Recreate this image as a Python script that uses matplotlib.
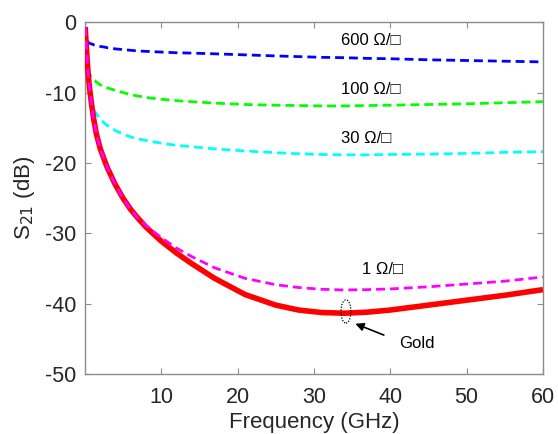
import matplotlib
matplotlib.use("Agg")
import matplotlib.pyplot as plt
from matplotlib.patches import Ellipse

plt.rcParams['font.family'] = ['Liberation Sans', 'DejaVu Sans']
plt.rcParams['axes.unicode_minus'] = False

freq = [0.05, 0.2, 0.4, 0.6, 0.9, 1.2, 1.5, 2, 2.6, 3, 4, 5, 6, 7, 8, 10, 12, 14, 17, 21, 25, 28, 31, 34, 37, 40, 45, 50, 55, 60]
gold = [-0.7, -3.5, -6.8, -9.2, -11.8, -14.0, -15.8, -17.9, -19.7, -20.8, -23.1, -25.0, -26.6, -27.9, -29.1, -31.1, -32.8, -34.3, -36.4, -38.7, -40.2, -40.9, -41.25, -41.35, -41.2, -40.9, -40.2, -39.5, -38.8, -38.0]
r1 = [-0.7, -3.5, -6.8, -9.2, -11.8, -14.0, -15.8, -17.9, -19.7, -20.8, -23.1, -25.0, -26.6, -27.9, -28.9, -30.6, -32.1, -33.3, -34.9, -36.4, -37.3, -37.7, -37.95, -38.05, -38.0, -37.9, -37.6, -37.2, -36.8, -36.2]
r30 = [-0.7, -3.5, -6.8, -9.2, -11.5, -12.5, -13.0, -13.7, -14.4, -14.7, -15.4, -15.9, -16.3, -16.6, -16.8, -17.2, -17.5, -17.7, -18.0, -18.3, -18.55, -18.7, -18.8, -18.85, -18.85, -18.8, -18.75, -18.65, -18.5, -18.4]
r100 = [-0.7, -3.5, -6.3, -7.3, -7.9, -8.2, -8.5, -8.9, -9.2, -9.35, -9.7, -10.0, -10.3, -10.5, -10.7, -10.95, -11.15, -11.3, -11.5, -11.7, -11.8, -11.85, -11.9, -11.9, -11.85, -11.8, -11.7, -11.6, -11.45, -11.3]
r600 = [-0.7, -2.3, -2.8, -3.0, -3.1, -3.25, -3.35, -3.45, -3.55, -3.65, -3.8, -3.9, -4.0, -4.1, -4.15, -4.25, -4.35, -4.4, -4.5, -4.65, -4.8, -4.9, -5.0, -5.05, -5.15, -5.2, -5.35, -5.45, -5.55, -5.65]

labels = ['600 Ω/□', '100 Ω/□', '30 Ω/□', '1 Ω/□', 'Gold']
xticks = [10, 20, 30, 40, 50, 60]
yticks = [0, -10, -20, -30, -40, -50]

fig = plt.figure(figsize=(5.58, 4.34), dpi=100)
ax = fig.add_axes([0.152, 0.138, 0.821, 0.811])

ax.plot(freq, gold, color='#ff0000', lw=4.0, solid_capstyle='butt', solid_joinstyle='round', zorder=3)
ax.plot(freq, r1, color='#ff00ff', lw=2.0, dashes=(3.2, 1.8), zorder=4)
ax.plot(freq, r30, color='#00ffff', lw=2.0, dashes=(3.2, 1.8), zorder=2)
ax.plot(freq, r100, color='#00ff00', lw=2.0, dashes=(3.2, 1.8), zorder=2)
ax.plot(freq, r600, color='#0000ff', lw=2.0, dashes=(3.2, 1.8), zorder=2)

tfs = 12
ax.text(33.5, -2.6, labels[0], fontsize=tfs, va='center', ha='left')
ax.text(33.5, -9.5, labels[1], fontsize=tfs, va='center', ha='left')
ax.text(33.5, -16.5, labels[2], fontsize=tfs, va='center', ha='left')
ax.text(36.3, -35.1, labels[3], fontsize=tfs, va='center', ha='left')
ax.text(41.1, -45.7, labels[4], fontsize=tfs, va='center', ha='left')

ax.add_patch(Ellipse((34.2, -41.1), 1.3, 3.3, fill=False, ls=(0, (1, 1.2)), lw=0.9, color='black', zorder=5))
ax.annotate('', xy=(35.1, -42.7), xytext=(39.5, -44.6),
            arrowprops=dict(arrowstyle='-|>', color='black', lw=1.2, mutation_scale=12))

ax.set_xlim(0, 60)
ax.set_ylim(-50, 0)
ax.set_xticks(xticks)
ax.set_yticks(yticks)
ax.tick_params(direction='in', top=True, right=True, length=4, pad=6, labelsize=15.5, colors='#8c8c8c', labelcolor='#262626')
ax.tick_params(axis='x', pad=9)
for s in ax.spines.values():
    s.set_color('#8c8c8c')
    s.set_linewidth(1.0)
ax.set_xlabel('Frequency (GHz)', fontsize=16, color='#262626', labelpad=3)
ax.set_ylabel('S$_{21}$ (dB)', fontsize=16, color='#262626', labelpad=6)

fig.savefig('out.png', dpi=100)
